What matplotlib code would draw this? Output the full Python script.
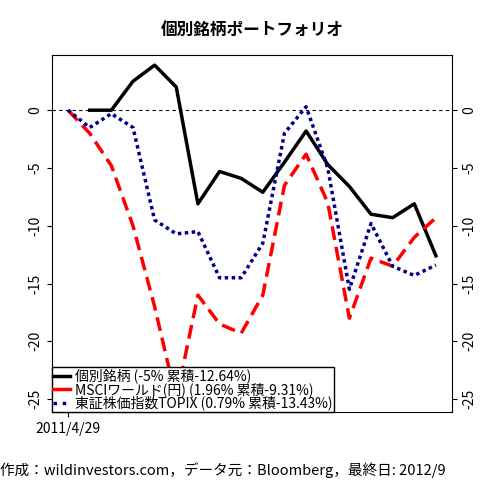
import matplotlib
matplotlib.use("Agg")
import matplotlib.pyplot as plt
import numpy as np

plt.rcParams['font.family'] = ['Noto Sans CJK JP', 'DejaVu Sans']

black = [0, 0, 0, 2.5, 3.9, 2.0, -8.1, -5.3, -5.9, -7.1, -4.5, -1.8, -4.7, -6.6, -9.0, -9.3, -8.1, -12.6]
red = [0, -2.0, -4.8, -10.0, -17.0, -25.0, -16.0, -18.5, -19.3, -16.0, -6.5, -3.8, -8.0, -18.0, -12.8, -13.5, -11.0, -9.3]
blue = [0, -1.5, -0.3, -1.5, -9.5, -10.7, -10.5, -14.5, -14.5, -11.5, -2.0, 0.3, -5.0, -15.5, -9.8, -13.5, -14.3, -13.4]
labels = ["個別銘柄 (-5% 累積-12.64%)", "MSCIワールド(円) (1.96% 累積-9.31%)", "東証株価指数TOPIX (0.79% 累積-13.43%)"]
yticks = [0, -5, -10, -15, -20, -25]

fig = plt.figure(figsize=(4.8, 4.8), dpi=100)
ax = fig.add_axes([0.108, 0.142, 0.834, 0.744])
x = np.arange(len(black))
ax.axhline(0, color='black', ls=(0, (3, 3)), lw=0.8)
ax.plot(x[1:], black[1:], color='black', lw=2.5)
ax.plot(x, red, color='red', lw=2.5, ls=(0, (4, 2)))
ax.plot(x, blue, color='#00008b', lw=2.5, ls=(0, (1, 1)))
ax.set_xlim(-0.75, 17.75)
ax.set_ylim(-26.1, 4.8)
ax.set_yticks(yticks)
ax.set_yticklabels([str(v) for v in yticks], rotation=90, va='center')
ax.tick_params(axis='y', right=True, labelright=True, labelsize=10, direction='out')
ax.set_xticks([0])
ax.set_xticklabels(["2011/4/29"], fontsize=10)
ax.set_title("個別銘柄ポートフォリオ", fontsize=12, fontweight='bold', pad=14)
leg = ax.legend([plt.Line2D([], [], color='black', lw=2.5),
                 plt.Line2D([], [], color='red', lw=2.5),
                 plt.Line2D([], [], color='#00008b', lw=2.5, ls=':')],
                labels, loc='lower left', bbox_to_anchor=(0, 0), fontsize=10,
                frameon=True, fancybox=False, edgecolor='black', framealpha=1,
                handlelength=1.2, handletextpad=0.4, borderpad=0.1, labelspacing=-0.1, borderaxespad=0)
fig.text(0.0, 0.01, "作成：wildinvestors.com，データ元：Bloomberg，最終日: 2012/9", fontsize=10.5)
fig.savefig("out.png", dpi=100)
